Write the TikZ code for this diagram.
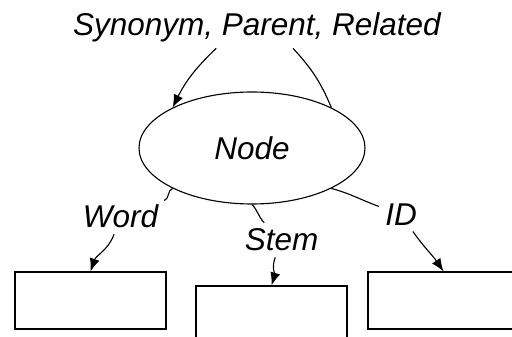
\documentclass[tikz,border=0pt]{standalone}
\usepackage{fontspec}
\setmainfont{Liberation Sans}
\usetikzlibrary{shapes.geometric, arrows.meta, positioning}

\tikzset{
  lbl/.style={font=\fontsize{11.2}{13}\selectfont\itshape, inner sep=2pt},
  field/.style={draw, minimum width=1.8875cm, minimum height=0.7125cm, inner sep=0pt},
  tip/.style={-{Latex[length=4.6pt, width=3.6pt]}}
}

\begin{document}
\begin{tikzpicture}
\useasboundingbox (0,0) rectangle (6.4,4.2125);
\clip (0,0) rectangle (6.4,4.2125);

% Relations on top
\node[lbl] (rel) at (3.2125,3.869) {Synonym, Parent, Related};

% Central node
\node[ellipse, draw, minimum width=2.825cm, minimum height=1.4cm, inner sep=0pt, lbl] (node) at (3.15,2.3625) {Node};
\draw[tip] ([xshift=-0.51cm]rel.south) to[bend right=10] (node.153);
\draw ([xshift=0.45cm]rel.south) to[bend left=10] (node.27);

% Fields
\node[field] (word) at (1.131,0.456) {};
\node[field] (stem) at (3.394,0.281) {};
\node[field] (id) at (5.544,0.456) {};

% Edge labels
\node[lbl] (lword) at (1.506,1.5063) {Word};
\node[lbl] (lstem) at (3.519,1.2125) {Stem};
\node[lbl] (lid) at (5.0125,1.5313) {ID};

% Edges from node to fields
\draw (node.207) to[out=198, in=20] (lword);
\draw[tip] (lword) to[out=-110, in=71] (word.north);

\draw (node.south) to[out=-45, in=135] (lstem);
\draw[tip] (lstem) to[out=-110, in=73] (stem.north);

\draw (node.333) to[out=-15, in=160] (lid);
\draw[tip] (lid) to[out=-55, in=124] (id.north);
\end{tikzpicture}
\end{document}
